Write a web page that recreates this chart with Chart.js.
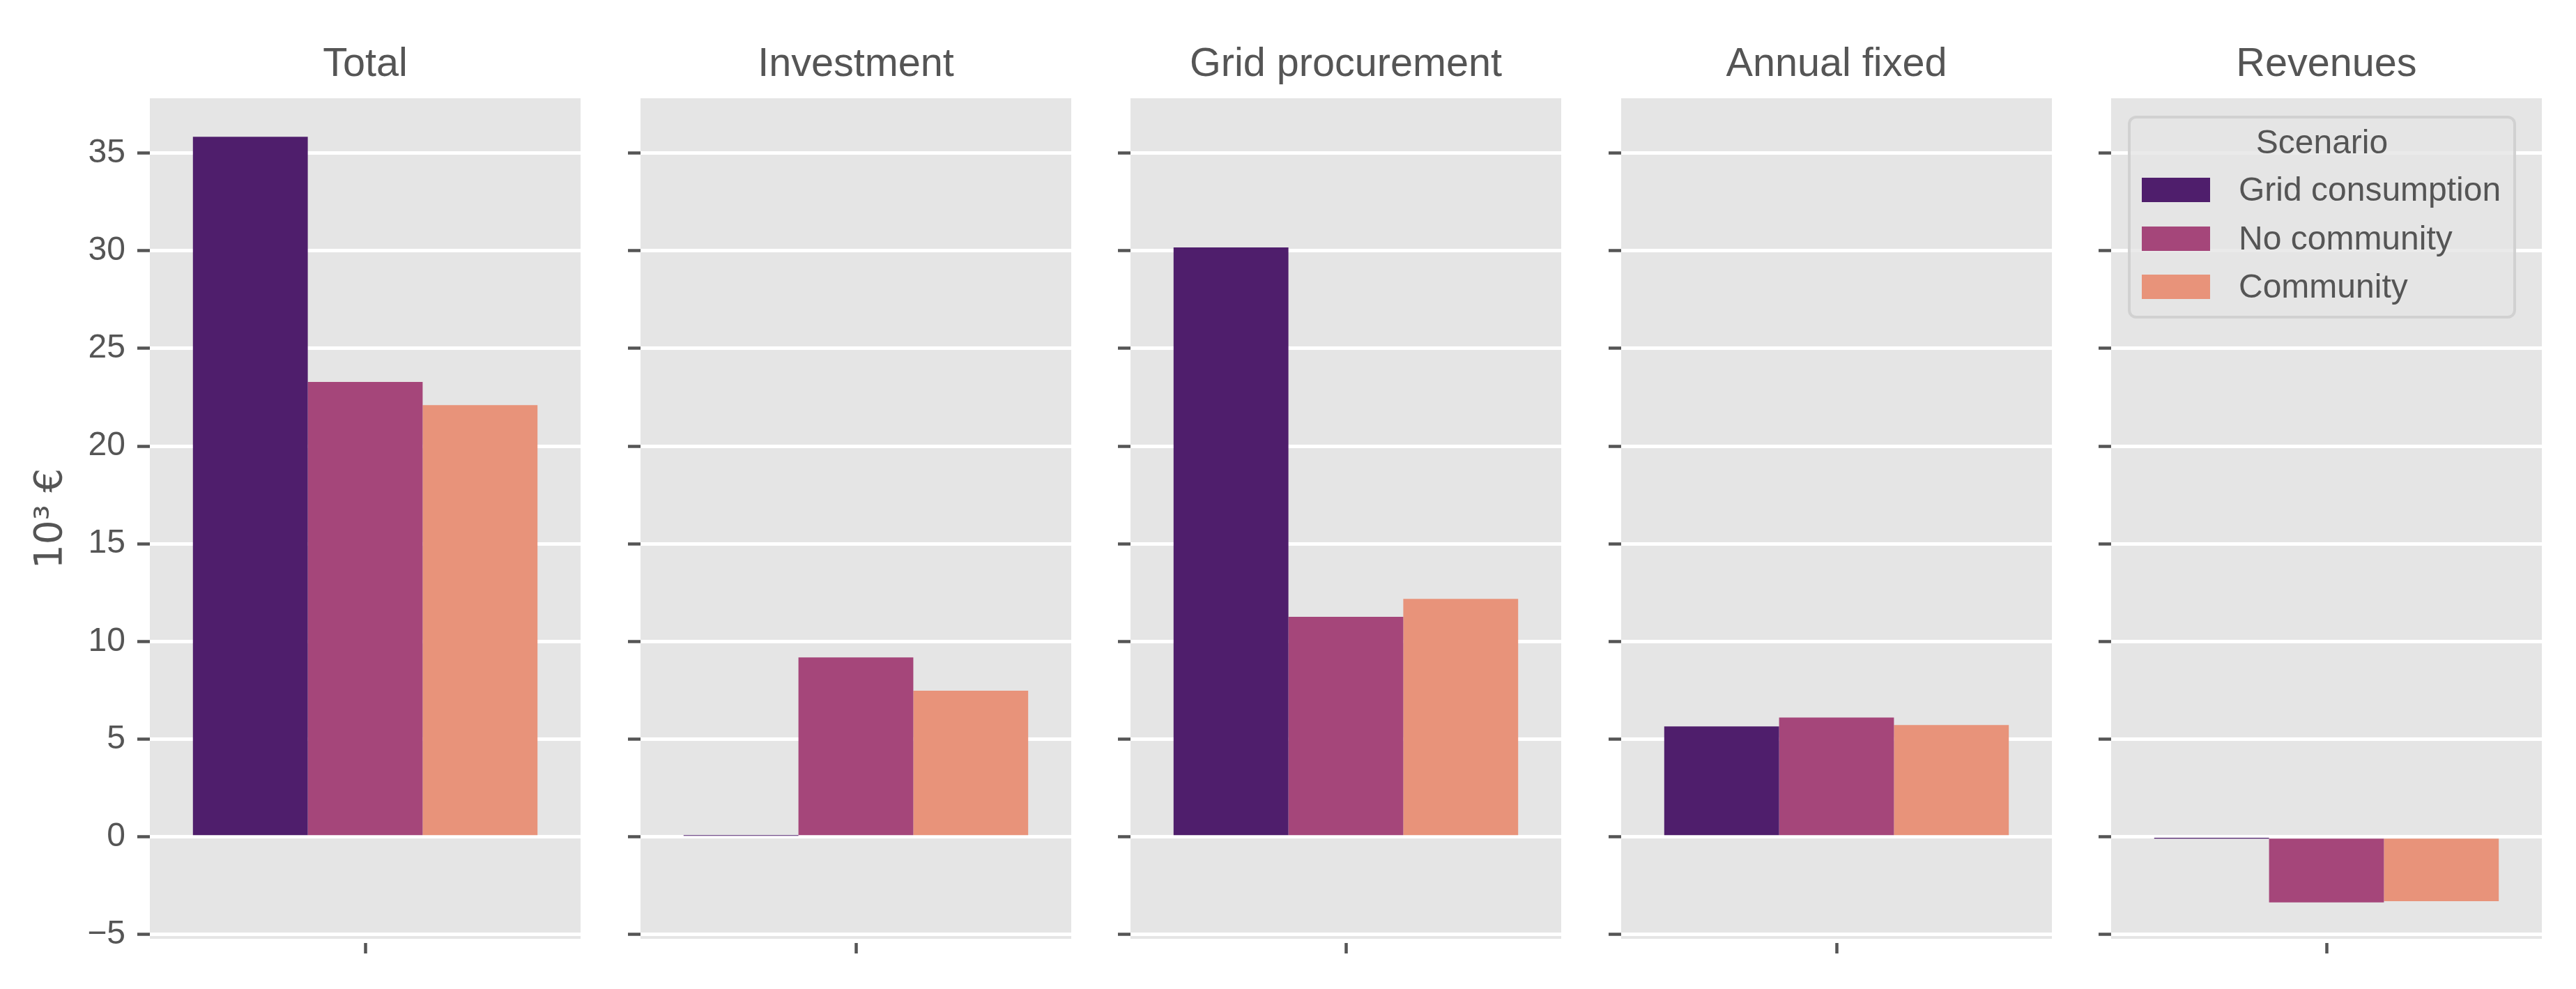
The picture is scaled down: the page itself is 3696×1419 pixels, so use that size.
<!DOCTYPE html>
<html>
<head>
<meta charset="utf-8">
<script src="https://cdn.jsdelivr.net/npm/chart.js@4.4.0/dist/chart.umd.min.js"></script>
<style>
  html, body { margin: 0; padding: 0; background: #fff; }
  body { width: 3696px; height: 1419px; position: relative; overflow: hidden;
         font-family: "Liberation Sans", Arial, sans-serif; color: #555555; }
  canvas { position: absolute; top: 0; }
  #legendFrame { position: absolute; left: 3053px; top: 166px; width: 557px; height: 291px;
                 box-sizing: border-box; border: 4px solid rgba(204,204,204,0.8);
                 border-radius: 12px; background: rgba(229,229,229,0.8); }
  .lg { position: absolute; font-size: 48px; line-height: 48px; white-space: nowrap; }
  .sw { position: absolute; width: 98px; height: 35px; }
</style>
</head>
<body>
<div id="charts"></div>

<script>
// --- Data ---
const panels = ["Total", "Investment", "Grid procurement", "Annual fixed", "Revenues"];
const scenarios = ["Grid consumption", "No community", "Community"];
const gridConsumption = [35.83, 0.05, 30.17, 5.65, -0.05];
const noCommunity = [23.28, 9.18, 11.26, 6.11, -3.36];
const community = [22.1, 7.48, 12.18, 5.72, -3.29];
const yTicks = [-5, 0, 5, 10, 15, 20, 25, 30, 35];
const yLabel = "10³ €";

const colors = ["#4f1e6c", "#a5467a", "#e8937a"];
const seriesValues = [gridConsumption, noCommunity, community];

// --- Layout ---
const panelLeft = [215, 919, 1622, 2326, 3029];
const panelWidth = 618;
const textColor = "#555555";

const panelBg = {
  id: "panelBg",
  beforeDraw(chart) {
    const { ctx, chartArea: a } = chart;
    ctx.save();
    ctx.fillStyle = "#e5e5e5";
    ctx.fillRect(a.left, a.top, a.width, a.height);
    ctx.restore();
  }
};

const holder = document.getElementById("charts");

panels.forEach((name, i) => {
  const first = i === 0;
  const left = first ? 0 : panelLeft[i] - 30;
  const axisW = panelLeft[i] - left;
  const width = panelLeft[i] + panelWidth - left;

  const canvas = document.createElement("canvas");
  canvas.width = width;
  canvas.height = 1419;
  canvas.style.left = left + "px";
  canvas.style.width = width + "px";
  canvas.style.height = "1419px";
  holder.appendChild(canvas);

  new Chart(canvas.getContext("2d"), {
    type: "bar",
    data: {
      labels: [""],
      datasets: scenarios.map((s, k) => ({
        label: s,
        data: [seriesValues[k][i]],
        backgroundColor: colors[k],
        borderWidth: 0,
        categoryPercentage: 0.8,
        barPercentage: 1.0
      }))
    },
    options: {
      responsive: false,
      maintainAspectRatio: false,
      devicePixelRatio: 1,
      animation: false,
      events: [],
      layout: { padding: 0 },
      plugins: {
        legend: { display: false },
        tooltip: { enabled: false },
        title: {
          display: true,
          text: name,
          fullSize: false,
          color: textColor,
          font: { family: "Liberation Sans", size: 57.6, weight: "normal" },
          padding: { top: 58.4, bottom: 13.5 }
        }
      },
      scales: {
        x: {
          type: "category",
          offset: true,
          border: { display: false },
          grid: {
            display: true,
            offset: false,
            drawOnChartArea: false,
            drawTicks: true,
            tickLength: 21,
            tickColor: textColor,
            tickWidth: 4.5,
            tickBorderDash: [0, 6, 15, 40]
          },
          ticks: { display: false },
          afterFit(scale) { scale.height = 72; }
        },
        y: {
          min: -5.22,
          max: 37.8,
          border: { display: false },
          afterBuildTicks(scale) { scale.ticks = yTicks.map(v => ({ value: v })); },
          afterFit(scale) { scale.width = axisW; },
          grid: {
            color: "#ffffff",
            lineWidth: 5,
            tickLength: 18,
            tickColor: textColor,
            tickWidth: 4.5
          },
          ticks: {
            display: first,
            color: textColor,
            padding: 17,
            font: { family: "Liberation Sans", size: 48 },
            callback: v => (v < 0 ? "\u2212" + Math.abs(v) : String(v))
          },
          title: {
            display: first,
            text: yLabel,
            color: textColor,
            font: { family: "DejaVu Sans", size: 55 },
            padding: { top: 41, bottom: 0 }
          }
        }
      }
    },
    plugins: [panelBg]
  });
});

// --- Legend (inside the last panel) ---
const frame = document.createElement("div");
frame.id = "legendFrame";
document.body.appendChild(frame);

const title = document.createElement("div");
title.className = "lg";
title.textContent = "Scenario";
title.style.left = "3053px";
title.style.width = "557px";
title.style.textAlign = "center";
title.style.top = "180px";
document.body.appendChild(title);

scenarios.forEach((s, k) => {
  const sw = document.createElement("div");
  sw.className = "sw";
  sw.style.left = "3073px";
  sw.style.top = (255 + k * 69.5) + "px";
  sw.style.background = colors[k];
  document.body.appendChild(sw);

  const t = document.createElement("div");
  t.className = "lg";
  t.textContent = s;
  t.style.left = "3212px";
  t.style.top = (248.4 + k * 69.5) + "px";
  document.body.appendChild(t);
});
</script>
</body>
</html>
